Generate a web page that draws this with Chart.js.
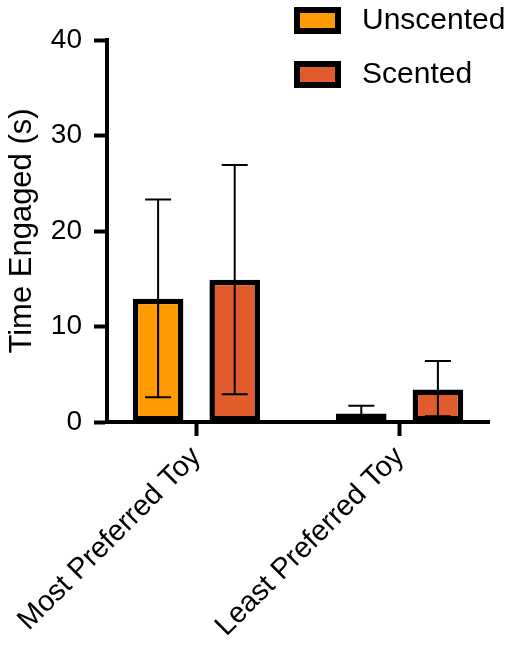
<!DOCTYPE html>
<html>
<head>
<meta charset="utf-8">
<script src="https://cdn.jsdelivr.net/npm/chart.js@4"></script>
<style>
  html, body { margin: 0; padding: 0; background: #fff; }
  #wrap { width: 510px; height: 645px; }
</style>
</head>
<body>
<div id="wrap"><canvas id="toyChart" width="510" height="645"></canvas></div>
<script>
// Datos
const categories = ['Most Preferred Toy', 'Least Preferred Toy'];
const seriesNames = ['Unscented', 'Scented'];
const unscented = [12.9, 0.9];
const scented = [14.9, 3.4];
const unscentedLow = [2.6, 0.1];
const unscentedHigh = [23.3, 1.7];
const scentedLow = [2.9, 0.6];
const scentedHigh = [26.9, 6.4];
const yTicks = [0, 10, 20, 30, 40];

const colors = ['#FF9B00', '#E05C2C'];
const FONT = "'Liberation Sans', Arial, sans-serif";

function toPoints(values) {
    return values.map(function(v, i) { return { x: i, y: v }; });
}

// Barras de error
const errorBars = {
    id: 'errorBars',
    afterDatasetsDraw: function(chart) {
        const ctx = chart.ctx;
        const y = chart.scales.y;
        const ranges = [[unscentedLow, unscentedHigh], [scentedLow, scentedHigh]];
        ctx.save();
        ctx.strokeStyle = '#000';
        ctx.lineWidth = 2;
        chart.data.datasets.forEach(function(ds, d) {
            const meta = chart.getDatasetMeta(d);
            meta.data.forEach(function(bar, i) {
                const lo = y.getPixelForValue(ranges[d][0][i]);
                const hi = y.getPixelForValue(ranges[d][1][i]);
                const cap = 13;
                ctx.beginPath();
                ctx.moveTo(bar.x, lo);
                ctx.lineTo(bar.x, hi);
                ctx.moveTo(bar.x - cap, lo);
                ctx.lineTo(bar.x + cap, lo);
                ctx.moveTo(bar.x - cap, hi);
                ctx.lineTo(bar.x + cap, hi);
                ctx.stroke();
            });
        });
        ctx.restore();
    }
};

// Leyenda
const boxLegend = {
    id: 'boxLegend',
    afterDraw: function(chart) {
        const ctx = chart.ctx;
        ctx.save();
        chart.data.datasets.forEach(function(ds, d) {
            const top = 7 + d * 54;
            ctx.fillStyle = '#000';
            ctx.fillRect(294, top, 47, 27);
            ctx.fillStyle = ds.backgroundColor;
            ctx.fillRect(300, top + 6, 35, 15);
            ctx.fillStyle = '#000';
            ctx.font = '30px ' + FONT;
            ctx.textAlign = 'left';
            ctx.textBaseline = 'middle';
            ctx.fillText(ds.label, 362, top + 14);
        });
        ctx.restore();
    }
};

const ctxToy = document.getElementById('toyChart').getContext('2d');
const toyChart = new Chart(ctxToy, {
    type: 'bar',
    data: {
        datasets: [{
            label: seriesNames[0],
            data: toPoints(unscented),
            backgroundColor: colors[0],
            borderColor: '#000',
            borderWidth: 5.5,
            borderSkipped: false
        }, {
            label: seriesNames[1],
            data: toPoints(scented),
            backgroundColor: colors[1],
            borderColor: '#000',
            borderWidth: 5.5,
            borderSkipped: false
        }]
    },
    options: {
        responsive: false,
        animation: false,
        layout: { padding: { top: 40, right: 21, left: 0, bottom: 0 } },
        categoryPercentage: 0.754,
        barPercentage: 0.66,
        scales: {
            x: {
                type: 'linear',
                min: -0.44,
                max: 1.44,
                offset: false,
                border: { display: true, color: '#000', width: 4 },
                grid: { offset: false, drawOnChartArea: false, tickLength: 14, tickWidth: 4, tickColor: '#000' },
                ticks: {
                    stepSize: 1,
                    includeBounds: false,
                    autoSkip: false,
                    minRotation: 45,
                    maxRotation: 45,
                    padding: 4,
                    color: '#000',
                    font: { family: FONT, size: 29 },
                    callback: function(value) {
                        return categories[value] !== undefined ? categories[value] : '';
                    }
                },
                afterFit: function(scale) {
                    scale.height = 223;
                    scale.paddingLeft = 0;
                    scale.paddingRight = 0;
                }
            },
            y: {
                min: 0,
                max: 40,
                border: { display: true, color: '#000', width: 4 },
                grid: { drawOnChartArea: false, tickLength: 13, tickWidth: 4, tickColor: '#000' },
                afterBuildTicks: function(scale) {
                    scale.ticks = yTicks.map(function(v) { return { value: v }; });
                },
                ticks: {
                    padding: 12,
                    color: '#000',
                    font: { family: FONT, size: 28 }
                },
                title: {
                    display: true,
                    text: 'Time Engaged (s)',
                    color: '#000',
                    padding: { top: 4, bottom: 4 },
                    font: { family: FONT, size: 31 }
                },
                afterFit: function(scale) {
                    scale.width = 107;
                    scale.paddingTop = 0;
                    scale.paddingBottom = 0;
                }
            }
        },
        plugins: {
            legend: { display: false },
            tooltip: { enabled: false }
        }
    },
    plugins: [errorBars, boxLegend]
});
</script>
</body>
</html>
